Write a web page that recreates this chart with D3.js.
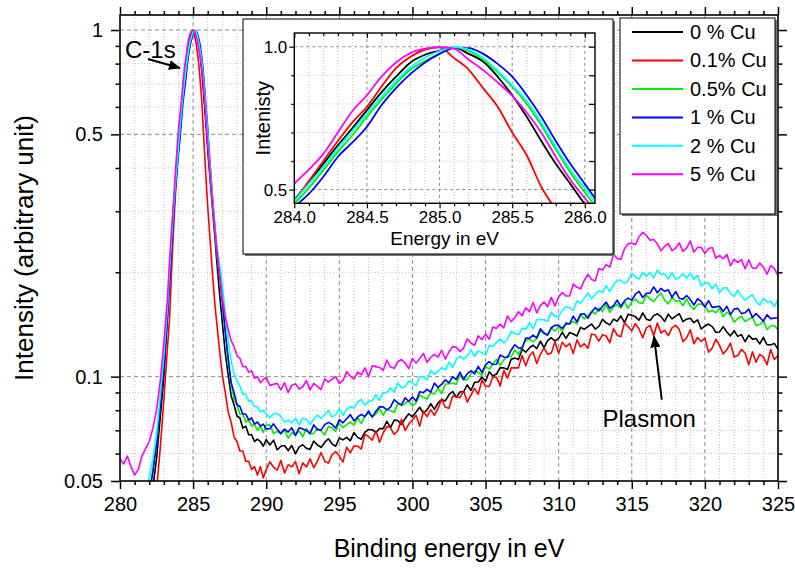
<!DOCTYPE html>
<html>
<head>
<meta charset="utf-8">
<script src="https://cdn.jsdelivr.net/npm/d3@7"></script>
<style>
  body { margin: 0; background: #fff; }
  svg { display: block; font-family: "Liberation Sans", Arial, Helvetica, sans-serif; }
</style>
</head>
<body>
<svg id="chart" width="795" height="570"></svg>
<script>
// ---- measurement grid (binding energy, eV) ----
const energy = [
  ...d3.range(280, 283.26, 0.25),   // left tail
  ...d3.range(283.4, 286.61, 0.1),  // C-1s core region
  ...d3.range(286.8, 289.81, 0.2),  // right flank
  ...d3.range(290, 325.01, 0.25)    // loss region / plasmon
];

// ---- normalised intensities, one list per sample ----
const cu0 = [
  .030,.031,.031,.032,.033,.034,.036,.038,.043,.048,.058,.076,.100,.150,
  .195,.235,.280,.325,.370,.415,.465,.525,.590,.655,.715,.778,.840,.895,.945,.972,.986,.998,.975,.948,.895,.830,.755,.670,.590,.520,.450,.400,.355,.315,.280,.250,.220,
  .175,.143,.117,.101,.088,.083,.077,.076,.071,.072,.068,.068,.065,.066,.065,.063,
  .0658,.0635,.0656,.0615, .0630,.0633,.0612,.0633, .0599,.0627,.0636,.0621, .0617,.0652,.0635,.0625,
  .0646,.0662,.0640,.0630, .0665,.0657,.0668,.0653, .0690,.0668,.0660,.0692, .0704,.0703,.0689,.0709,
  .0708,.0743,.0713,.0749, .0747,.0727,.0757,.0781, .0766,.0791,.0816,.0785, .0802,.0836,.0805,.0840,
  .0859,.0851,.0887,.0906, .0872,.0903,.0906,.0947, .0912,.0963,.0965,.0998, .0970,.1033,.1005,.1018,
  .1061,.1060,.1048,.1122, .1131,.1120,.1200,.1176, .1210,.1232,.1205,.1265, .1213,.1273,.1295,.1267,
  .1290,.1342,.1289,.1341, .1327,.1310,.1387,.1370, .1394,.1418,.1372,.1396, .1463,.1430,.1411,.1465,
  .1445,.1497,.1431,.1513, .1505,.1488,.1455,.1527, .1465,.1453,.1500,.1518, .1490,.1443,.1515,.1468,
  .1495,.1519,.1441,.1465, .1475,.1431,.1459,.1373, .1400,.1418,.1394,.1343, .1346,.1394,.1345,.1311,
  .1357,.1307,.1323,.1261, .1316,.1283,.1288,.1243, .1298,.1236,.1235,.1247, .1198
];
const cu01 = [
  .026,.027,.027,.028,.029,.030,.031,.033,.037,.042,.047,.062,.086,.122,
  .150,.190,.235,.285,.340,.400,.460,.530,.600,.670,.735,.790,.860,.925,.965,.990,.998,.960,.920,.855,.790,.700,.620,.510,.430,.360,.310,.270,.235,.205,.180,.160,.145,
  .120,.101,.090,.079,.074,.067,.065,.061,.061,.057,.057,.054,.055,.052,.055,.051,
  .0541,.0568,.0548,.0537, .0573,.0527,.0557,.0549, .0569,.0525,.0564,.0549, .0579,.0546,.0570,.0604,
  .0570,.0563,.0595,.0608, .0590,.0567,.0626,.0603, .0631,.0630,.0618,.0683, .0671,.0656,.0698,.0647,
  .0689,.0718,.0712,.0681, .0698,.0754,.0699,.0730, .0750,.0773,.0720,.0795, .0767,.0803,.0773,.0810,
  .0862,.0816,.0811,.0879, .0875,.0870,.0910,.0845, .0885,.0925,.0889,.0977, .0940,.0937,.0998,.0995,
  .0940,.1042,.0990,.1061, .1060,.1060,.1151,.1075, .1149,.1179,.1091,.1160, .1210,.1160,.1170,.1261,
  .1169,.1256,.1220,.1246, .1167,.1277,.1219,.1245, .1208,.1327,.1318,.1266, .1322,.1310,.1253,.1375,
  .1317,.1304,.1429,.1393, .1357,.1422,.1370,.1295, .1383,.1406,.1314,.1429, .1337,.1360,.1314,.1383,
  .1406,.1368,.1262,.1293, .1366,.1244,.1297,.1263, .1293,.1177,.1209,.1282, .1231,.1162,.1195,.1249,
  .1140,.1150,.1199,.1170, .1082,.1179,.1101,.1159, .1140,.1082,.1198,.1121, .1150
];
const cu05 = [
  .034,.035,.035,.036,.037,.038,.040,.041,.046,.054,.064,.083,.107,.152,
  .195,.230,.270,.310,.355,.400,.450,.505,.568,.632,.690,.755,.815,.870,.920,.950,.975,.998,.985,.955,.910,.860,.800,.725,.640,.560,.490,.425,.370,.325,.290,.260,.230,
  .196,.162,.134,.109,.096,.086,.083,.078,.078,.074,.075,.072,.073,.070,.072,.069,
  .0724,.0726,.0686,.0695, .0683,.0702,.0664,.0690, .0680,.0697,.0671,.0709, .0683,.0686,.0709,.0698,
  .0679,.0717,.0714,.0696, .0734,.0713,.0727,.0740, .0725,.0763,.0732,.0771, .0785,.0767,.0780,.0809,
  .0774,.0806,.0797,.0789, .0836,.0825,.0838,.0852, .0823,.0842,.0886,.0870, .0862,.0899,.0891,.0928,
  .0892,.0952,.0954,.0958, .0951,.1009,.0980,.0980, .1020,.1040,.1030,.1009, .1071,.1052,.1086,.1121,
  .1078,.1118,.1146,.1141, .1193,.1159,.1220,.1270, .1283,.1259,.1287,.1354, .1330,.1316,.1382,.1354,
  .1394,.1351,.1433,.1418, .1444,.1419,.1509,.1468, .1500,.1545,.1515,.1576, .1544,.1617,.1533,.1590,
  .1616,.1576,.1647,.1574, .1646,.1673,.1634,.1627, .1720,.1675,.1646,.1702, .1741,.1663,.1620,.1693,
  .1650,.1659,.1602,.1677, .1604,.1562,.1616,.1622, .1596,.1537,.1555,.1528, .1576,.1488,.1535,.1508,
  .1436,.1473,.1494,.1443, .1465,.1486,.1406,.1414, .1448,.1368,.1400,.1404, .1366
];
const cu1 = [
  .033,.034,.034,.035,.036,.037,.039,.042,.046,.053,.064,.082,.106,.150,
  .190,.225,.265,.305,.350,.395,.440,.485,.545,.615,.665,.720,.795,.855,.905,.945,.975,.995,.995,.975,.940,.895,.830,.755,.670,.590,.520,.450,.390,.340,.300,.265,.235,
  .200,.166,.135,.113,.096,.090,.083,.082,.078,.078,.075,.076,.073,.074,.072,.073,
  .0706,.0708,.0731,.0705, .0686,.0706,.0692,.0712, .0676,.0712,.0706,.0699, .0686,.0726,.0703,.0701,
  .0727,.0738,.0729,.0711, .0752,.0736,.0756,.0777, .0745,.0765,.0778,.0767, .0796,.0764,.0795,.0819,
  .0818,.0802,.0817,.0858, .0840,.0829,.0869,.0849, .0873,.0850,.0905,.0899, .0919,.0902,.0958,.0931,
  .0950,.0979,.0960,.1000, .0980,.1030,.0980,.1020, .1040,.1019,.1071,.1028, .1081,.1105,.1084,.1086,
  .1154,.1140,.1137,.1192, .1236,.1211,.1208,.1293, .1290,.1318,.1294,.1375, .1337,.1319,.1384,.1408,
  .1404,.1377,.1420,.1421, .1494,.1439,.1515,.1518, .1474,.1535,.1581,.1549, .1596,.1641,.1573,.1602,
  .1663,.1594,.1655,.1685, .1663,.1729,.1761,.1691, .1740,.1742,.1816,.1746, .1798,.1763,.1780,.1693,
  .1761,.1683,.1673,.1714, .1670,.1608,.1678,.1649, .1588,.1658,.1584,.1590, .1596,.1542,.1596,.1511,
  .1566,.1574,.1520,.1528, .1566,.1483,.1520,.1483, .1445,.1510,.1470,.1475, .1479
];
const cu2 = [
  .035,.036,.037,.038,.040,.042,.044,.046,.051,.058,.068,.088,.115,.160,
  .205,.240,.280,.320,.365,.410,.460,.520,.580,.645,.705,.766,.825,.880,.928,.962,.985,.999,.990,.960,.915,.865,.810,.735,.650,.570,.505,.440,.385,.340,.300,.270,.240,
  .212,.185,.152,.127,.111,.102,.097,.094,.089,.089,.085,.085,.082,.082,.079,.080,
  .0782,.0760,.0783,.0783, .0768,.0739,.0749,.0736, .0759,.0725,.0759,.0754, .0728,.0755,.0775,.0757,
  .0778,.0798,.0764,.0777, .0806,.0774,.0805,.0821, .0812,.0845,.0860,.0826, .0850,.0851,.0887,.0854,
  .0899,.0900,.0928,.0902, .0958,.0929,.0936,.0972, .0960,.0941,.1000,.1000, .0980,.1043,.1015,.1038,
  .1061,.1044,.1102,.1062, .1121,.1145,.1124,.1148, .1195,.1145,.1187,.1171, .1154,.1232,.1225,.1255,
  .1285,.1252,.1282,.1352, .1330,.1321,.1379,.1369, .1428,.1373,.1459,.1459, .1460,.1446,.1535,.1490,
  .1490,.1555,.1591,.1580, .1552,.1655,.1629,.1685, .1741,.1676,.1730,.1768, .1752,.1829,.1761,.1838,
  .1897,.1897,.1857,.1894, .1988,.1940,.1911,.1999, .1950,.1997,.1924,.2030, .1970,.1980,.1911,.1998,
  .1911,.1935,.1979,.1926, .1989,.1909,.1962,.1827, .1860,.1863,.1793,.1851, .1746,.1803,.1805,.1737,
  .1705,.1777,.1710,.1661, .1697,.1723,.1648,.1608, .1683,.1643,.1651,.1595, .1669
];
const cu5 = [
  .058,.056,.059,.055,.052,.054,.059,.062,.065,.071,.080,.097,.125,.170,
  .220,.255,.295,.340,.395,.455,.520,.570,.625,.700,.775,.830,.895,.945,.978,.993,.999,.993,.955,.918,.875,.828,.770,.700,.615,.535,.470,.415,.370,.330,.295,.265,.240,
  .200,.168,.149,.137,.127,.122,.115,.113,.107,.107,.103,.104,.099,.100,.096,.098,
  .0997,.0943,.0950,.0957, .0916,.0962,.0899,.0945, .0954,.0921,.0935,.0975, .0916,.0957,.0938,.0918,
  .0985,.0965,.0983,.1000, .0955,.0975,.1034,.1003, .0984,.1031,.1012,.1060, .0999,.1075,.1069,.1063,
  .1042,.1117,.1066,.1057, .1104,.1121,.1095,.1055, .1129,.1094,.1129,.1167, .1101,.1138,.1160,.1138,
  .1190,.1124,.1180,.1221, .1216,.1181,.1209,.1286, .1250,.1232,.1313,.1278, .1327,.1281,.1390,.1378,
  .1418,.1383,.1496,.1441, .1480,.1539,.1500,.1580, .1540,.1636,.1528,.1605, .1641,.1592,.1693,.1600,
  .1702,.1749,.1708,.1709, .1849,.1810,.1792,.1894, .1974,.1908,.1888,.2050, .2030,.2105,.2070,.2258,
  .2191,.2177,.2340,.2416, .2431,.2403,.2533,.2610, .2555,.2475,.2488,.2415, .2306,.2380,.2421,.2310,
  .2350,.2431,.2299,.2349, .2462,.2287,.2360,.2360, .2270,.2344,.2359,.2196, .2240,.2189,.2252,.2088,
  .2178,.2135,.2175,.2050, .2172,.2058,.2053,.2129, .2070,.1975,.2093,.2051, .1958
];

const sampleNames  = ["0 % Cu", "0.1% Cu", "0.5% Cu", "1 % Cu", "2 % Cu", "5 % Cu"];
const sampleColors = ["#000000", "#ff0000", "#00ee00", "#0000ff", "#00ffff", "#ff00ff"];
const samples = [cu0, cu01, cu05, cu1, cu2, cu5];

// axis tick values
const xMajor = [280, 285, 290, 295, 300, 305, 310, 315, 320, 325];
const xMinor = d3.range(281, 325).filter(v => v % 5 !== 0);
const yMajor = [0.05, 0.1, 0.5, 1];
const yMajorLabels = ["0.05", "0.1", "0.5", "1"];
const yMinor = [0.06, 0.07, 0.08, 0.09, 0.2, 0.3, 0.4, 0.6, 0.7, 0.8, 0.9];

const insetXMajor = [284.0, 284.5, 285.0, 285.5, 286.0];
const insetXMinor = d3.range(284.1, 286.05, 0.1).filter(v => Math.abs(v * 2 - Math.round(v * 2)) > 1e-6);
const insetYMajor = [0.5, 1.0];
const insetYMinor = [0.6, 0.7, 0.8, 0.9];

// ---- layout ----
const svg = d3.select("#chart");
const L = 120, R = 778, T = 15, B = 481;
const x = d3.scaleLinear().domain([280, 325]).range([L, R]);
const y = d3.scaleLog().domain([0.05, 1.105]).range([B, T]);

const defs = svg.append("defs");
defs.append("clipPath").attr("id", "mainClip")
  .append("rect").attr("x", L).attr("y", T).attr("width", R - L).attr("height", B - T);
defs.append("marker").attr("id", "arrowHead")
  .attr("viewBox", "0 0 12 10").attr("refX", 11).attr("refY", 5)
  .attr("markerWidth", 12).attr("markerHeight", 10).attr("markerUnits", "userSpaceOnUse")
  .attr("orient", "auto")
  .append("path").attr("d", "M0,0 L12,5 L0,10 Z").attr("fill", "#000");

// ---- grid ----
const grid = svg.append("g");
grid.selectAll(".gx1").data(xMinor).join("line")
  .attr("x1", d => x(d)).attr("x2", d => x(d)).attr("y1", T).attr("y2", B)
  .attr("stroke", "#c4c4c4").attr("stroke-width", 1).attr("stroke-dasharray", "1,2");
grid.selectAll(".gy1").data(yMinor).join("line")
  .attr("y1", d => y(d)).attr("y2", d => y(d)).attr("x1", L).attr("x2", R)
  .attr("stroke", "#c4c4c4").attr("stroke-width", 1).attr("stroke-dasharray", "1,2");
grid.selectAll(".gx2").data(xMajor.slice(1, -1)).join("line")
  .attr("x1", d => x(d)).attr("x2", d => x(d)).attr("y1", T).attr("y2", B)
  .attr("stroke", "#8c8c8c").attr("stroke-width", 1).attr("stroke-dasharray", "4,3");
grid.selectAll(".gy2").data([0.1, 0.5, 1]).join("line")
  .attr("y1", d => y(d)).attr("y2", d => y(d)).attr("x1", L).attr("x2", R)
  .attr("stroke", "#8c8c8c").attr("stroke-width", 1).attr("stroke-dasharray", "4,3");

// ---- spectra ----
const line = d3.line().x((v, i) => x(energy[i])).y(v => y(v));
svg.append("g").attr("clip-path", "url(#mainClip)")
  .selectAll("path").data(samples).join("path")
  .attr("d", d => line(d))
  .attr("fill", "none")
  .attr("stroke", (d, i) => sampleColors[i])
  .attr("stroke-width", 1.6)
  .attr("stroke-linejoin", "round");

// ---- axes ----
function styleAxis(g) {
  g.select(".domain").remove();
  g.selectAll(".tick line").attr("stroke", "#000").attr("stroke-width", 1.5);
  g.selectAll(".tick text").attr("fill", "#000").attr("font-size", 20)
    .attr("font-family", "'Liberation Sans', Arial, sans-serif");
}
svg.append("g").attr("transform", `translate(0,${B})`)
  .call(d3.axisBottom(x).tickValues(xMajor).tickSize(8).tickPadding(8).tickFormat(d3.format("d"))).call(styleAxis);
svg.append("g").attr("transform", `translate(0,${B})`)
  .call(d3.axisBottom(x).tickValues(xMinor).tickSize(4).tickFormat("")).call(styleAxis);
svg.append("g").attr("transform", `translate(0,${T})`)
  .call(d3.axisTop(x).tickValues(xMajor).tickSize(8).tickFormat("")).call(styleAxis);
svg.append("g").attr("transform", `translate(0,${T})`)
  .call(d3.axisTop(x).tickValues(xMinor).tickSize(4).tickFormat("")).call(styleAxis);
svg.append("g").attr("transform", `translate(${L},0)`)
  .call(d3.axisLeft(y).tickValues(yMajor).tickSize(9).tickPadding(8)
    .tickFormat((d, i) => yMajorLabels[i])).call(styleAxis);
svg.append("g").attr("transform", `translate(${L},0)`)
  .call(d3.axisLeft(y).tickValues(yMinor).tickSize(4.5).tickFormat("")).call(styleAxis);
svg.append("g").attr("transform", `translate(${R},0)`)
  .call(d3.axisRight(y).tickValues(yMajor).tickSize(9).tickFormat("")).call(styleAxis);
svg.append("g").attr("transform", `translate(${R},0)`)
  .call(d3.axisRight(y).tickValues(yMinor).tickSize(4.5).tickFormat("")).call(styleAxis);

svg.append("rect").attr("x", L).attr("y", T).attr("width", R - L).attr("height", B - T)
  .attr("fill", "none").attr("stroke", "#000").attr("stroke-width", 1.6);

// axis titles
svg.append("text").attr("x", (L + R) / 2).attr("y", 557).attr("text-anchor", "middle")
  .attr("font-size", 25).attr("fill", "#000").text("Binding energy in eV");
svg.append("text").attr("transform", `translate(33,${(T + B) / 2}) rotate(-90)`)
  .attr("text-anchor", "middle").attr("font-size", 26).attr("fill", "#000")
  .text("Intensity (arbitrary unit)");

// ---- annotations ----
svg.append("text").attr("x", x(280.34)).attr("y", y(0.83)).attr("font-size", 24).attr("fill", "#000").text("C-1s");
svg.append("line")
  .attr("x1", x(281.91)).attr("y1", y(0.825)).attr("x2", x(284.10)).attr("y2", y(0.777))
  .attr("stroke", "#000").attr("stroke-width", 2).attr("marker-end", "url(#arrowHead)");
svg.append("text").attr("x", x(313.0)).attr("y", y(0.0718)).attr("font-size", 24).attr("fill", "#000").text("Plasmon");
svg.append("line")
  .attr("x1", x(317.05)).attr("y1", y(0.0859)).attr("x2", x(316.52)).attr("y2", y(0.1307))
  .attr("stroke", "#000").attr("stroke-width", 2).attr("marker-end", "url(#arrowHead)");

// ---- inset: zoom on the C-1s maximum ----
const inset = svg.append("g");
inset.append("rect").attr("x", 245).attr("y", 21).attr("width", 370).attr("height", 235).attr("fill", "#777");
inset.append("rect").attr("x", 243).attr("y", 19).attr("width", 370).attr("height", 235)
  .attr("fill", "#fff").attr("stroke", "#000").attr("stroke-width", 1);

const iL = 294.3, iR = 595, iT = 33, iB = 203.3;
const xi = d3.scaleLinear().domain([284.0, 286.07]).range([iL, iR]);
const yi = d3.scaleLinear().domain([0.452, 1.048]).range([iB, iT]);
defs.append("clipPath").attr("id", "insetClip")
  .append("rect").attr("x", iL).attr("y", iT).attr("width", iR - iL).attr("height", iB - iT);

inset.selectAll(".igx1").data(insetXMinor).join("line")
  .attr("x1", d => xi(d)).attr("x2", d => xi(d)).attr("y1", iT).attr("y2", iB)
  .attr("stroke", "#c4c4c4").attr("stroke-dasharray", "1,2");
inset.selectAll(".igy1").data(insetYMinor).join("line")
  .attr("y1", d => yi(d)).attr("y2", d => yi(d)).attr("x1", iL).attr("x2", iR)
  .attr("stroke", "#c4c4c4").attr("stroke-dasharray", "1,2");
inset.selectAll(".igx2").data(insetXMajor.slice(1)).join("line")
  .attr("x1", d => xi(d)).attr("x2", d => xi(d)).attr("y1", iT).attr("y2", iB)
  .attr("stroke", "#8c8c8c").attr("stroke-dasharray", "3,3");
inset.selectAll(".igy2").data(insetYMajor).join("line")
  .attr("y1", d => yi(d)).attr("y2", d => yi(d)).attr("x1", iL).attr("x2", iR)
  .attr("stroke", "#8c8c8c").attr("stroke-dasharray", "3,3");

const coreIdx = energy.map((e, i) => i).filter(i => energy[i] >= 283.8 && energy[i] <= 286.3);
inset.append("g").attr("clip-path", "url(#insetClip)")
  .selectAll("path").data(samples).join("path")
  .attr("d", s => d3.line().curve(d3.curveMonotoneX).x(i => xi(energy[i])).y(i => yi(s[i]))(coreIdx))
  .attr("fill", "none")
  .attr("stroke", (d, i) => sampleColors[i])
  .attr("stroke-width", 1.8);

function styleInset(g) {
  g.select(".domain").remove();
  g.selectAll(".tick line").attr("stroke", "#000").attr("stroke-width", 1.2);
  g.selectAll(".tick text").attr("fill", "#000").attr("font-size", 17)
    .attr("font-family", "'Liberation Sans', Arial, sans-serif");
}
inset.append("g").attr("transform", `translate(0,${iB})`)
  .call(d3.axisBottom(xi).tickValues(insetXMajor).tickSize(5).tickPadding(3).tickFormat(d3.format(".1f"))).call(styleInset);
inset.append("g").attr("transform", `translate(0,${iB})`)
  .call(d3.axisBottom(xi).tickValues(insetXMinor).tickSize(3).tickFormat("")).call(styleInset);
inset.append("g").attr("transform", `translate(0,${iT})`)
  .call(d3.axisBottom(xi).tickValues(insetXMajor).tickSize(5).tickFormat("")).call(styleInset);
inset.append("g").attr("transform", `translate(0,${iT})`)
  .call(d3.axisBottom(xi).tickValues(insetXMinor).tickSize(3).tickFormat("")).call(styleInset);
inset.append("g").attr("transform", `translate(${iL},0)`)
  .call(d3.axisLeft(yi).tickValues(insetYMajor).tickSize(5).tickPadding(2).tickFormat(d3.format(".1f"))).call(styleInset);
inset.append("g").attr("transform", `translate(${iL},0)`)
  .call(d3.axisLeft(yi).tickValues(insetYMinor).tickSize(3).tickFormat("")).call(styleInset);
inset.append("g").attr("transform", `translate(${iR},0)`)
  .call(d3.axisLeft(yi).tickValues(insetYMajor.concat(insetYMinor)).tickSize(6).tickFormat("")).call(styleInset);
inset.append("rect").attr("x", iL).attr("y", iT).attr("width", iR - iL).attr("height", iB - iT)
  .attr("fill", "none").attr("stroke", "#000").attr("stroke-width", 1.4);

inset.append("text").attr("x", (iL + iR) / 2).attr("y", 245).attr("text-anchor", "middle")
  .attr("font-size", 19).attr("fill", "#000").text("Energy in eV");
inset.append("text").attr("transform", `translate(270,${(iT + iB) / 2}) rotate(-90)`)
  .attr("text-anchor", "middle").attr("font-size", 20).attr("fill", "#000").text("Intenisty");

// ---- legend ----
const legend = svg.append("g");
legend.append("rect").attr("x", 622).attr("y", 20).attr("width", 155).attr("height", 196).attr("fill", "#777");
legend.append("rect").attr("x", 620).attr("y", 18).attr("width", 155).attr("height", 196)
  .attr("fill", "#fff").attr("stroke", "#000").attr("stroke-width", 1);
const rowY = d3.scaleLinear().domain([0, 5]).range([32, 174.3]);
sampleNames.forEach((name, i) => {
  legend.append("line").attr("x1", 632).attr("x2", 683).attr("y1", rowY(i)).attr("y2", rowY(i))
    .attr("stroke", sampleColors[i]).attr("stroke-width", 2);
  legend.append("text").attr("x", 690).attr("y", rowY(i) + 7).attr("font-size", 20)
    .attr("fill", "#000").text(name);
});
</script>
</body>
</html>
